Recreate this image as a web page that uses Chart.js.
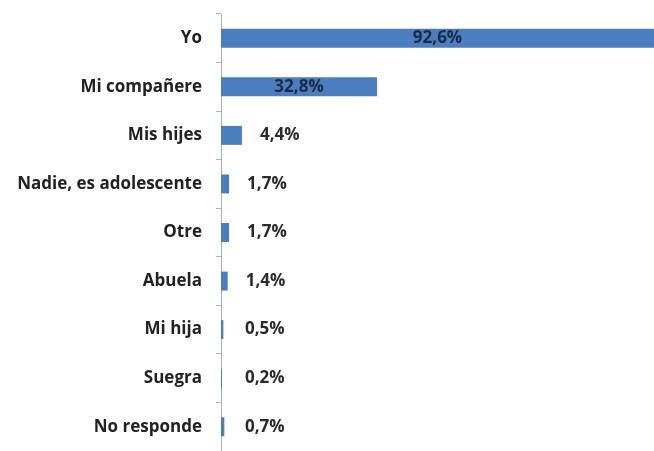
<!DOCTYPE html>
<html>
<head>
<meta charset="utf-8">
<script src="https://cdn.jsdelivr.net/npm/chart.js@4/dist/chart.umd.min.js"></script>
<style>
  html, body { margin: 0; padding: 0; background: #fff; }
  #wrap { width: 654px; height: 451px; }
</style>
</head>
<body>
<div id="wrap"><canvas id="grafica"></canvas></div>
<script>
const categorias = ['Yo', 'Mi compañere', 'Mis hijes', 'Nadie, es adolescente', 'Otre', 'Abuela', 'Mi hija', 'Suegra', 'No responde'];
const porcentajes = [92.6, 32.8, 4.4, 1.7, 1.7, 1.4, 0.5, 0.2, 0.7];

// etiquetas de valor: dentro de la barra si es larga, a la derecha si es corta
const etiquetasValor = {
    id: 'etiquetasValor',
    afterDatasetsDraw(chart) {
        const ctx = chart.ctx;
        const meta = chart.getDatasetMeta(0);
        const area = chart.chartArea;
        ctx.save();
        ctx.font = 'bold 17px "Open Sans", sans-serif';
        ctx.textBaseline = 'middle';
        meta.data.forEach((bar, i) => {
            const v = porcentajes[i];
            const txt = v.toFixed(1).replace('.', ',') + '%';
            if (v > 20) {
                ctx.fillStyle = '#1c2a48';
                ctx.textAlign = 'center';
                ctx.fillText(txt, (bar.base + Math.min(bar.x, area.right)) / 2, bar.y);
            } else {
                ctx.fillStyle = '#2b2b2b';
                ctx.textAlign = 'left';
                ctx.fillText(txt, Math.max(bar.x + 18, bar.base + 24), bar.y);
            }
        });
        ctx.restore();
    }
};

new Chart(document.getElementById('grafica'), {
    type: 'bar',
    data: {
        labels: categorias,
        datasets: [{
            data: porcentajes,
            backgroundColor: '#4a7ebf',
            borderWidth: 0,
            categoryPercentage: 1,
            barPercentage: 0.39
        }]
    },
    options: {
        indexAxis: 'y',
        responsive: true,
        maintainAspectRatio: false,
        animation: false,
        layout: { padding: { top: 14, bottom: -7, left: 0, right: 0 } },
        plugins: {
            legend: { display: false },
            tooltip: { enabled: false }
        },
        scales: {
            x: {
                display: false,
                min: 0,
                max: 91
            },
            y: {
                afterFit(scale) {
                    scale.width = 221;
                    scale.paddingTop = 0;
                    scale.paddingBottom = -7;
                },
                border: { display: true, color: '#a9b0bc', width: 1 },
                grid: {
                    drawOnChartArea: false,
                    drawTicks: true,
                    tickLength: 5,
                    color: '#b5b5b5',
                    offset: true
                },
                ticks: {
                    color: '#222',
                    padding: 14,
                    font: { family: '"Open Sans", sans-serif', size: 17, weight: 'bold' }
                }
            }
        }
    },
    plugins: [etiquetasValor]
});
</script>
</body>
</html>
